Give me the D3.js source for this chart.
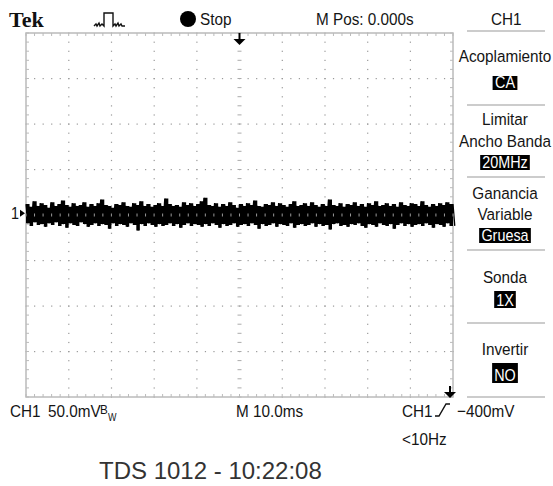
<!DOCTYPE html>
<html>
<head>
<meta charset="utf-8">
<script src="https://cdn.jsdelivr.net/npm/d3@7"></script>
<style>
body{margin:0;background:#fff;}
svg{display:block;}
.lcd{font-family:"Liberation Sans",Arial,sans-serif;fill:#151515;}
</style>
</head>
<body>
<svg id="scope" width="553" height="486"></svg>
<script>
const W=553,H=486;
// screen: 10 div x 10ms, 8 div x 50mV
const timeDomain=[-50,50];
const voltDomain=[-200,200];

// peak-detect envelope (mV)
const traceHigh=[12,9,15,10,13,11,8,14,10,12,
16,11,9,13,10,11,14,9,12,10,
13,17,11,10,8,12,11,14,10,9,
13,11,15,10,12,9,11,13,10,18,
12,10,11,9,14,11,13,10,12,15,
19,11,10,13,9,12,10,14,11,8,
12,10,13,11,16,10,9,12,11,14,
10,13,11,9,12,15,10,11,13,10,
14,11,9,12,10,17,11,10,13,9,
12,11,14,10,12,9,13,11,15,10,
11,13,10,12,9,14,11,10,13,12,
10,15,11,9,12,10,13,11,14,12];
const traceLow=[-9,-12,-8,-11,-10,-13,-9,-11,-8,-12,
-10,-14,-9,-11,-12,-8,-10,-13,-11,-9,
-12,-10,-11,-15,-9,-12,-10,-11,-13,-9,
-11,-17,-10,-12,-9,-11,-13,-10,-12,-11,
-9,-12,-10,-14,-11,-9,-12,-10,-11,-13,
-10,-12,-9,-11,-14,-10,-12,-11,-9,-13,
-11,-10,-12,-9,-11,-15,-10,-12,-11,-9,
-13,-10,-11,-12,-9,-14,-11,-10,-12,-11,
-9,-13,-10,-12,-11,-16,-10,-9,-12,-11,
-13,-10,-11,-9,-12,-14,-10,-11,-13,-9,
-11,-12,-10,-15,-11,-9,-12,-10,-13,-11,
-10,-12,-9,-11,-14,-10,-11,-13,-9,-12];

const menuTitles=[["Acoplamiento"],["Limitar","Ancho Banda"],["Ganancia","Variable"],["Sonda"],["Invertir"]];
const menuValues=["CA","20MHz","Gruesa","1X","NO"];
const topLabels=["Stop","M Pos: 0.000s","CH1"];
const bottomLabels=["CH1","50.0mV","M 10.0ms","CH1","\u2212400mV","<10Hz"];
const footer="TDS 1012 - 10:22:08";

const svg=d3.select("#scope");
const SX=0.9; // the scope font is narrow

function lcdText(g,x,y,s,size,anchor){
    return g.append("text").attr("class","lcd")
        .attr("transform","translate("+x+","+y+") scale("+SX+",1)")
        .attr("text-anchor",anchor||"start")
        .style("font-size",size+"px").text(s);
}

let x=d3.scaleLinear().domain(timeDomain).range([26,453]);
let y=d3.scaleLinear().domain(voltDomain).range([397,33]);

// grid
let grid=svg.append("g");
let majorX=x.ticks(10), majorY=y.ticks(8);
let minorX=d3.range(timeDomain[0],timeDomain[1]+0.01,2);
let minorY=d3.range(voltDomain[0],voltDomain[1]+0.01,10);

// dotted major lines
majorX.filter(d=>d!=timeDomain[0]&&d!=timeDomain[1]&&d!=0).forEach(t=>{
    grid.selectAll(null).data(minorY).enter().append("rect")
        .attr("x",x(t)-0.5).attr("y",d=>y(d)-0.5)
        .attr("width",1.2).attr("height",1.2).attr("fill","#999");
});
majorY.filter(d=>d!=voltDomain[0]&&d!=voltDomain[1]&&d!=0).forEach(v=>{
    grid.selectAll(null).data(minorX).enter().append("rect")
        .attr("x",d=>x(d)-0.5).attr("y",y(v)-0.5)
        .attr("width",1.2).attr("height",1.2).attr("fill","#999");
});
// vertical center axis with small ticks
grid.selectAll(null).data(minorY).enter().append("line")
    .attr("x1",x(0)-2).attr("x2",x(0)+2)
    .attr("y1",d=>y(d)).attr("y2",d=>y(d))
    .attr("stroke","#aaa");

// border with inward ticks
grid.append("rect")
    .attr("x",x(timeDomain[0])).attr("y",y(voltDomain[1]))
    .attr("width",x(timeDomain[1])-x(timeDomain[0]))
    .attr("height",y(voltDomain[0])-y(voltDomain[1]))
    .attr("fill","none").attr("stroke","#bbb").attr("stroke-width",1.5);
grid.selectAll(null).data(minorX).enter().append("line")
    .attr("x1",d=>x(d)).attr("x2",d=>x(d))
    .attr("y1",y(voltDomain[1])).attr("y2",y(voltDomain[1])+3)
    .attr("stroke","#bbb");
grid.selectAll(null).data(minorX).enter().append("line")
    .attr("x1",d=>x(d)).attr("x2",d=>x(d))
    .attr("y1",y(voltDomain[0])).attr("y2",y(voltDomain[0])-3)
    .attr("stroke","#bbb");
grid.selectAll(null).data(minorY).enter().append("line")
    .attr("y1",d=>y(d)).attr("y2",d=>y(d))
    .attr("x1",x(timeDomain[0])).attr("x2",x(timeDomain[0])+3)
    .attr("stroke","#bbb");
grid.selectAll(null).data(minorY).enter().append("line")
    .attr("y1",d=>y(d)).attr("y2",d=>y(d))
    .attr("x1",x(timeDomain[1])).attr("x2",x(timeDomain[1])-3)
    .attr("stroke","#bbb");

// trace: filled envelope between the high and low of each sample
let n=traceHigh.length;
let step=(timeDomain[1]-timeDomain[0])/n;
let samples=traceHigh.map((h,i)=>({t:timeDomain[0]+i*step,hi:h,lo:traceLow[i]}));
samples.push({t:timeDomain[1],hi:traceHigh[n-1],lo:traceLow[n-1]});
let band=d3.area().curve(d3.curveStepAfter)
    .x(d=>x(d.t)).y0(d=>y(d.lo)).y1(d=>y(d.hi));
svg.append("path").attr("d",band(samples)).attr("fill","#000");
// thin spikes on top for texture
let pts=[];
samples.forEach(d=>{pts.push([d.t,d.hi]);pts.push([d.t+step/2,d.lo]);});
svg.append("path")
    .attr("d",d3.line().x(d=>x(d[0])).y(d=>y(d[1]))(pts))
    .attr("fill","none").attr("stroke","#000").attr("stroke-width",1.3);

// horizontal center axis ticks show through the trace
svg.selectAll(null).data(minorX).enter().append("line")
    .attr("y1",y(0)-1.5).attr("y2",y(0)+1.5)
    .attr("x1",d=>x(d)).attr("x2",d=>x(d))
    .attr("stroke","#999");

// channel marker
lcdText(svg,11,y(2)+6,"1",16);
svg.append("path")
    .attr("d","M20,"+(y(2)-3.5)+"L25,"+y(2)+"L20,"+(y(2)+3.5)+"Z")
    .attr("fill","#000");

// trigger position arrow (top) and level arrow (bottom right)
function arrow(cx,top,bottom){
    svg.append("line").attr("x1",cx).attr("x2",cx).attr("y1",top).attr("y2",bottom-4)
        .attr("stroke","#000").attr("stroke-width",2);
    svg.append("path")
        .attr("d","M"+(cx-6)+","+(bottom-6)+"L"+(cx+6)+","+(bottom-6)+"L"+cx+","+bottom+"Z")
        .attr("fill","#000");
}
arrow(x(0),33,45);
arrow(450,386,398);

// header
svg.append("text").attr("x",9).attr("y",27)
    .style("font-family","'Liberation Serif','DejaVu Serif',serif")
    .style("font-weight","bold").style("font-size","22px").attr("fill","#111")
    .text("Tek");
svg.append("path")
    .attr("d","M94,26 L96,24 L97,26 L99,23 L100,26 L102,24 L104,26 L104,13 L113,13 L113,26 L115,24 L116,26 L118,23 L119,26 L121,24 L122,26 L125,26")
    .attr("fill","none").attr("stroke","#111").attr("stroke-width",1.4);
svg.append("circle").attr("cx",188).attr("cy",19).attr("r",8).attr("fill","#000");
let topX=[200,316,491];
topLabels.forEach((s,i)=>lcdText(svg,topX[i],25,s,17));

// menu
let menu=svg.append("g");
let sepY=[31,105,177,250,323,397];
menu.selectAll("line").data(sepY).enter().append("line")
    .attr("x1",467).attr("x2",545).attr("y1",d=>d).attr("y2",d=>d)
    .attr("stroke","#999").attr("stroke-width",1.2);
let titleY=[[62],[125,147],[199,220],[283],[355]];
menuTitles.forEach((lines,i)=>{
    lines.forEach((s,j)=>lcdText(menu,505,titleY[i][j],s,17,"middle"));
});
let boxY=[[76,90],[155,170],[228,243],[291,308],[363,383]];
menuValues.forEach((s,i)=>{
    let txt=lcdText(menu,505,boxY[i][1]-2,s,16,"middle").style("fill","#fff");
    let bb=txt.node().getBBox();
    let w=bb.width*SX+4;
    menu.insert("rect","text")
        .attr("x",505-w/2).attr("y",boxY[i][0])
        .attr("width",w).attr("height",boxY[i][1]-boxY[i][0])
        .attr("fill","#000");
});

// bottom status
let botPos=[[10,417],[48,417],[236,417],[402,417],[457,417],[402,445]];
bottomLabels.forEach((s,i)=>lcdText(svg,botPos[i][0],botPos[i][1],s,17));
lcdText(svg,100,414,"B",13);
lcdText(svg,108,421,"W",10);
// rising slope glyph
svg.append("path")
    .attr("d","M435,416 L439,416 L446,404 L450,404")
    .attr("fill","none").attr("stroke","#111").attr("stroke-width",1.4);

svg.append("text").attr("x",99).attr("y",479)
    .style("font-family","'Liberation Sans',Arial,sans-serif")
    .style("font-size","24px").attr("fill","#333").text(footer);
</script>
</body>
</html>
